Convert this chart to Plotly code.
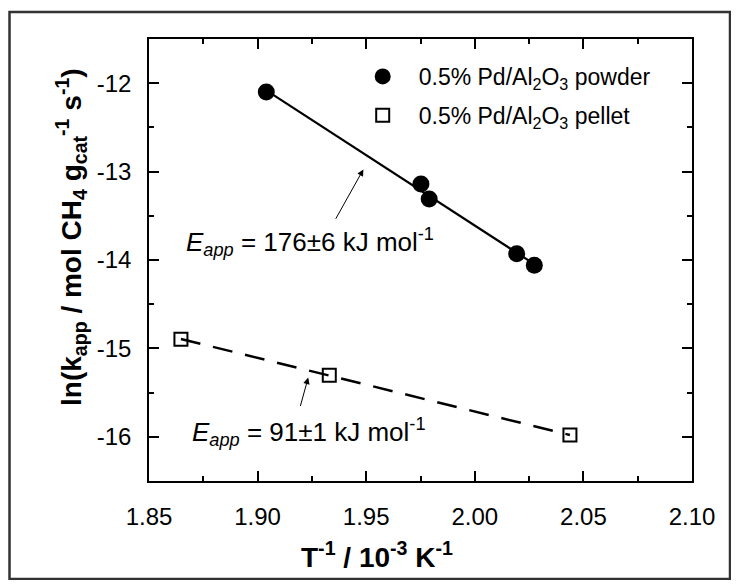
import numpy as np
import plotly.graph_objects as go

# ---- data ----
powder_x = [1.904, 1.9752, 1.979, 2.0193, 2.0274]
powder_y = [-12.10, -13.14, -13.31, -13.93, -14.06]
pellet_x = [1.8647, 1.933, 2.0438]
pellet_y = [-14.896, -15.303, -15.981]

powder_name = "0.5% Pd/Al<sub>2</sub>O<sub>3</sub> powder"
pellet_name = "0.5% Pd/Al<sub>2</sub>O<sub>3</sub> pellet"

y_tickvals = [-12, -13, -14, -15, -16]
y_ticktext = ["-12", "-13", "-14", "-15", "-16"]
x_tickvals = [1.85, 1.90, 1.95, 2.00, 2.05, 2.10]
x_ticktext = ["1.85", "1.90", "1.95", "2.00", "2.05", "2.10"]

label_powder = "<i>E<sub>app</sub></i> = 176\u00b16 kJ mol<sup>-1</sup>"
label_pellet = "<i>E<sub>app</sub></i> = 91\u00b11 kJ mol<sup>-1</sup>"
x_title = "<b>T<sup>-1</sup> / 10<sup>-3</sup> K<sup>-1</sup></b>"
y_title = "<b>ln(k<sub>app</sub> / mol CH<sub>4</sub> g<sub>cat</sub><sup>-1</sup> s<sup>-1</sup>)</b>"

FONT = "Liberation Sans, Arial, sans-serif"

# linear fits
def fit_line(xs, ys):
    m, b = np.polyfit(xs, ys, 1)
    xx = np.array([min(xs), max(xs)])
    return xx, m * xx + b

fx1, fy1 = fit_line(powder_x, powder_y)
fx2, fy2 = fit_line(pellet_x, pellet_y)

fig = go.Figure()
fig.add_trace(go.Scatter(x=fx1, y=fy1, mode="lines", line=dict(color="black", width=2.2),
                         showlegend=False, hoverinfo="skip"))
fig.add_trace(go.Scatter(x=fx2, y=fy2, mode="lines",
                         line=dict(color="black", width=2.5, dash="20px,13px"),
                         showlegend=False, hoverinfo="skip"))
fig.add_trace(go.Scatter(x=powder_x, y=powder_y, mode="markers", name=powder_name,
                         legendgroup="a",
                         marker=dict(symbol="circle", size=17, color="black")))
fig.add_trace(go.Scatter(x=pellet_x, y=pellet_y, mode="markers", name=pellet_name,
                         legendgroup="b",
                         marker=dict(symbol="square-open", size=13, color="black",
                                     line=dict(width=2, color="black"))))

# page is offset by the 8px body margin
OFF = 8
W, H = 739 - 2 * OFF, 588 - 2 * OFF
L, T = 149 - OFF, 39 - OFF
R = W - (692 - OFF)
B = H - (481 - OFF)
pw, ph = W - L - R, H - T - B

def px(xp):  # page pixel -> paper x
    return (xp - OFF - L) / pw

def py(yp):  # page pixel -> paper y
    return (H - B - (yp - OFF)) / ph

axis_common = dict(
    showline=True, linecolor="black", linewidth=1.6, mirror="ticks",
    ticks="inside", ticklen=10, tickwidth=1.5, tickcolor="black",
    showgrid=False, zeroline=False,
    tickfont=dict(family=FONT, size=24, color="black"),
)

fig.update_xaxes(range=[1.85, 2.10], tickvals=x_tickvals, ticktext=x_ticktext,
                 minor=dict(ticks="inside", ticklen=5, tickwidth=1.5, tickcolor="black",
                            dtick=0.025, tick0=1.85),
                 ticklabelstandoff=13, **axis_common)
fig.update_yaxes(range=[-16.5, -11.5], tickvals=y_tickvals, ticktext=y_ticktext,
                 minor=dict(ticks="inside", ticklen=5, tickwidth=1.5, tickcolor="black",
                            dtick=0.5, tick0=-12),
                 ticklabelstandoff=11, **axis_common)

annotations = [
    dict(x=1.9487, y=-12.975, ax=1.9356, ay=-13.551, xref="x", yref="y", axref="x", ayref="y",
         showarrow=True, arrowhead=2, arrowsize=1.3, arrowwidth=1, arrowcolor="black", text=""),
    dict(x=1.9233, y=-15.330, ax=1.9195, ay=-15.669, xref="x", yref="y", axref="x", ayref="y",
         showarrow=True, arrowhead=2, arrowsize=1.3, arrowwidth=1, arrowcolor="black", text=""),
    dict(x=1.9241, y=-13.80, xref="x", yref="y", text=label_powder, showarrow=False,
         xanchor="center", yanchor="middle", font=dict(family=FONT, size=26, color="black")),
    dict(x=1.9237, y=-15.94, xref="x", yref="y", text=label_pellet, showarrow=False,
         xanchor="center", yanchor="middle", font=dict(family=FONT, size=26, color="black")),
    dict(x=px(377), y=py(555), xref="paper", yref="paper", text=x_title, showarrow=False,
         xanchor="center", yanchor="middle", font=dict(family=FONT, size=28, color="black")),
    dict(x=px(71), y=py(237), xref="paper", yref="paper", text=y_title, showarrow=False,
         textangle=-90, xanchor="center", yanchor="middle",
         font=dict(family=FONT, size=28, color="black")),
]

fig.update_layout(
    width=W, height=H,
    margin=dict(l=L, r=R, t=T, b=B, pad=0),
    paper_bgcolor="white", plot_bgcolor="white",
    annotations=annotations,
    showlegend=True,
    legend=dict(x=px(346.7), y=py(55), xanchor="left", yanchor="top",
                bgcolor="rgba(0,0,0,0)", borderwidth=0, itemwidth=62,
                traceorder="grouped", tracegroupgap=6,
                font=dict(family=FONT, size=23, color="black")),
    shapes=[dict(type="rect", xref="paper", yref="paper",
                 x0=px(9.5), x1=px(730), y0=py(579), y1=py(12),
                 line=dict(color="#333333", width=2.5), fillcolor="rgba(0,0,0,0)", layer="below")],
)

fig.write_html("out.html")
